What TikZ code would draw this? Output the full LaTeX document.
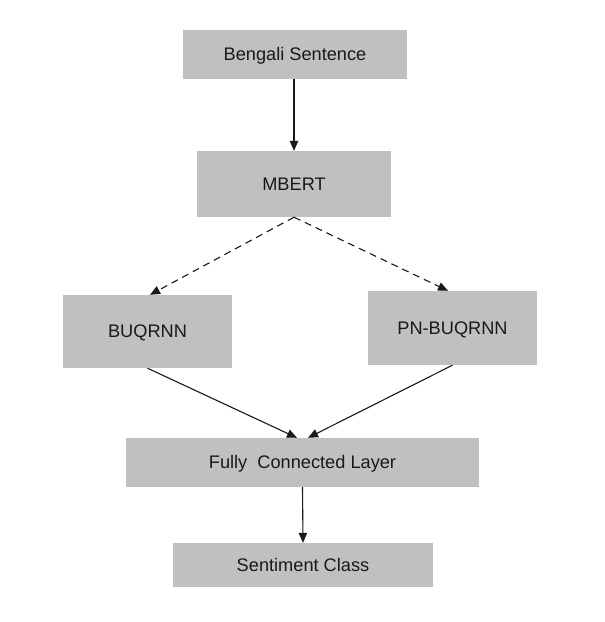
\documentclass[tikz,border=0pt]{standalone}
\usepackage{fontspec}
\setmainfont{Liberation Sans}
\usetikzlibrary{arrows.meta}
\begin{document}
\begin{tikzpicture}[x=1pt,y=-1pt,
  box/.style={draw=none,fill=boxgray,inner sep=0pt,font=\fontsize{18.2pt}{22pt}\selectfont,text=black!90,text height=12.6pt,text depth=0pt},
  conn/.style={line width=1.1pt,draw=black!90,-{Triangle[length=10pt,width=8.5pt]}},
  dconn/.style={conn,dash pattern=on 7pt off 5pt}]
\definecolor{boxgray}{HTML}{C0C0C0}
\useasboundingbox (0,0) rectangle (605,622);
\fill[white] (0,0) rectangle (605,622);
\node[box,minimum width=224pt,minimum height=49pt] (bs) at (295,54.5) {Bengali Sentence};
\node[box,minimum width=194pt,minimum height=66pt] (mb) at (294,184) {MBERT};
\node[box,minimum width=169pt,minimum height=73pt] (bu) at (147.5,331.5) {BUQRNN};
\node[box,minimum width=169pt,minimum height=74pt] (pn) at (452.5,328) {PN-BUQRNN};
\node[box,minimum width=353pt,minimum height=49pt] (fc) at (302.5,462.5) {Fully\ \ Connected Layer};
\node[box,minimum width=260pt,minimum height=44pt] (sc) at (303,565) {Sentiment Class};
\draw[conn] ([xshift=-1pt]bs.south) -- (mb.north);
\draw[dconn] (mb.south) -- ([xshift=2.5pt]bu.north);
\draw[dconn] (mb.south) -- ([xshift=-4.5pt]pn.north);
\draw[conn] (bu.south) -- ([xshift=-5.5pt]fc.north);
\draw[conn] (pn.south) -- ([xshift=5.5pt]fc.north);
\draw[conn] (fc.south) -- (sc.north);
\end{tikzpicture}
\end{document}
